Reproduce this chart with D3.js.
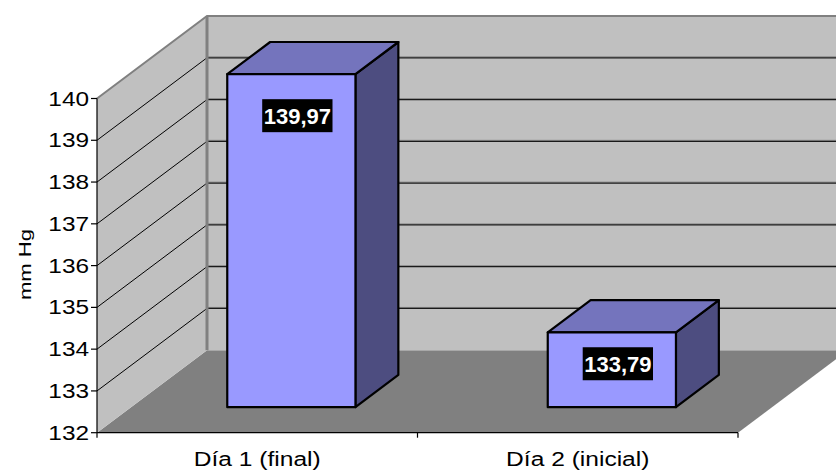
<!DOCTYPE html>
<html>
<head>
<meta charset="utf-8">
<script src="https://cdn.jsdelivr.net/npm/d3@7"></script>
<style>
  html, body { margin: 0; padding: 0; background: #ffffff; }
  svg { display: block; }
</style>
</head>
<body>
<svg id="chart" width="836" height="471"></svg>
<script>
// Presión arterial media por día (mm Hg)
const categories = ["Día 1 (final)", "Día 2 (inicial)"];
const values = [139.97, 133.79];
const valueLabels = ["139,97", "133,79"];
const yTicks = [132, 133, 134, 135, 136, 137, 138, 139, 140];
const yTitle = "mm Hg";

const svg = d3.select("#chart");
const W = 836, H = 471;

// Front plane of the 3D plot box, plus the depth offset of the back wall
const y = d3.scaleLinear().domain([132, 140]).range([432.7, 98.5]);
const x = d3.scaleBand().domain(categories).range([97, 738]).paddingInner(0).paddingOuter(0);
const DX = 110, DY = -82.5;
const barFront = 0.31, barBack = 0.70;   // bar depth span (0 = front, 1 = back wall)
const gapWidth = 1.5;                     // gap between bars relative to bar width

const P = (px, v, d) => [px + d * DX, y(v) + d * DY];
const poly = pts => "M" + pts.map(p => p.join(",")).join("L") + "Z";

const [x0, x1] = x.range();
const [vMin, vMax] = y.domain();

// Floor
svg.append("path")
  .attr("d", poly([P(x0, vMin, 0), P(x1, vMin, 0), P(x1, vMin, 1), P(x0, vMin, 1)]))
  .attr("fill", "#808080");

// Back wall
svg.append("path")
  .attr("d", poly([P(x0, vMin, 1), P(x1, vMin, 1), P(x1, vMax, 1), P(x0, vMax, 1)]))
  .attr("fill", "#c0c0c0");

// Side wall
svg.append("path")
  .attr("d", poly([P(x0, vMin, 0), P(x0, vMin, 1), P(x0, vMax, 1), P(x0, vMax, 0)]))
  .attr("fill", "#c0c0c0");

// Gridlines on both walls
const grid = yTicks.filter(v => v > vMin && v < vMax);
const line = d3.line();
grid.forEach(v => {
  svg.append("path").attr("d", line([P(x0, v, 0), P(x0, v, 1)]))
    .attr("stroke", "#000").attr("stroke-width", 1).attr("fill", "none");
  const a = P(x0, v, 1), b = P(x1, v, 1);
  svg.append("path").attr("d", line([[a[0], a[1] - 1], [b[0], b[1] - 1]]))
    .attr("stroke", "#8a8a8a").attr("stroke-width", 1).attr("fill", "none");
  svg.append("path").attr("d", line([a, b]))
    .attr("stroke", "#1a1a1a").attr("stroke-width", 1.2).attr("fill", "none");
});

// Wall borders
svg.append("path")
  .attr("d", line([P(x0, vMax, 0), P(x0, vMax, 1), P(x1, vMax, 1)]))
  .attr("stroke", "#808080").attr("stroke-width", 2).attr("fill", "none");
svg.append("path")
  .attr("d", line([P(x0, vMin, 1), P(x0, vMax, 1)]))
  .attr("stroke", "#808080").attr("stroke-width", 3).attr("fill", "none");

// Value axis (front left edge)
svg.append("path").attr("d", line([P(x0, vMin, 0), P(x0, vMax, 0)]))
  .attr("stroke", "#000").attr("stroke-width", 1.2).attr("fill", "none");
yTicks.forEach(v => {
  const p = P(x0, v, 0);
  svg.append("path").attr("d", line([[p[0] - 6, p[1]], p]))
    .attr("stroke", "#000").attr("stroke-width", 1.2);
});

// Category axis (front floor edge)
svg.append("path").attr("d", line([P(x0, vMin, 0), P(x1, vMin, 0)]))
  .attr("stroke", "#000").attr("stroke-width", 1.2);
const catEdges = [x0, ...categories.map(c => x(c) + x.bandwidth())];
catEdges.forEach(cx => {
  const p = P(cx, vMin, 0);
  svg.append("path").attr("d", line([p, [p[0], p[1] + 5]]))
    .attr("stroke", "#000").attr("stroke-width", 1.2);
});

// Text helper: horizontally widened text placed at (tx, ty)
function stretchedText(g, tx, ty, str, opts) {
  const t = g.append("text")
    .attr("transform", `translate(${tx},${ty}) rotate(${opts.rotate || 0}) scale(${opts.sx || 1},1)`)
    .attr("x", 0).attr("y", 0)
    .attr("text-anchor", opts.anchor || "middle")
    .attr("font-family", "Liberation Sans, Arial, sans-serif")
    .attr("font-size", opts.size)
    .attr("font-weight", opts.weight || "normal")
    .attr("fill", opts.fill || "#000")
    .text(str);
  if (opts.dy) t.attr("dy", opts.dy);
  return t;
}

// Tick labels
yTicks.forEach(v => {
  const p = P(x0, v, 0);
  stretchedText(svg, p[0] - 8, p[1], String(v), { size: 19.5, sx: 1.25, anchor: "end", dy: "0.36em" });
});

// Category labels
categories.forEach(c => {
  const p = P(x(c) + x.bandwidth() / 2, vMin, 0);
  stretchedText(svg, p[0], 466, c, { size: 21, sx: 1.17 });
});

// Axis title
stretchedText(svg, 31, 264.5, yTitle, { size: 17, sx: 1.3, rotate: -90 });

// Bars
const bw = x.bandwidth() / (1 + gapWidth);
categories.forEach((c, i) => {
  const v = values[i];
  const bx0 = x(c) + (x.bandwidth() - bw) / 2, bx1 = bx0 + bw;
  const g = svg.append("g")
    .attr("stroke", "#000").attr("stroke-width", 2.2).attr("stroke-linejoin", "round");
  g.append("path").attr("fill", "#4d4d80")
    .attr("d", poly([P(bx1, vMin, barFront), P(bx1, vMin, barBack), P(bx1, v, barBack), P(bx1, v, barFront)]));
  g.append("path").attr("fill", "#7474bd")
    .attr("d", poly([P(bx0, v, barFront), P(bx1, v, barFront), P(bx1, v, barBack), P(bx0, v, barBack)]));
  g.append("path").attr("fill", "#9999ff")
    .attr("d", poly([P(bx0, vMin, barFront), P(bx1, vMin, barFront), P(bx1, v, barFront), P(bx0, v, barFront)]));

  // Value label in a black box near the top of the front face
  const top = P(bx0, v, barFront)[1];
  const faceH = P(bx0, vMin, barFront)[1] - top;
  const cy = top + Math.min(41.5, faceH * 0.42);
  const cx = (P(bx0, v, barFront)[0] + P(bx1, v, barFront)[0]) / 2 + 6;
  const lg = svg.append("g");
  const rect = lg.append("rect").attr("fill", "#000");
  const t = lg.append("text")
    .attr("x", cx).attr("y", cy).attr("dy", "0.36em")
    .attr("text-anchor", "middle")
    .attr("font-family", "Liberation Sans, Arial, sans-serif")
    .attr("font-size", 22).attr("font-weight", "bold")
    .attr("fill", "#fff")
    .text(valueLabels[i]);
  const bb = t.node().getBBox();
  rect.attr("x", bb.x - 1.5).attr("y", cy - 16.5).attr("width", bb.width + 3).attr("height", 33);
});
</script>
</body>
</html>
